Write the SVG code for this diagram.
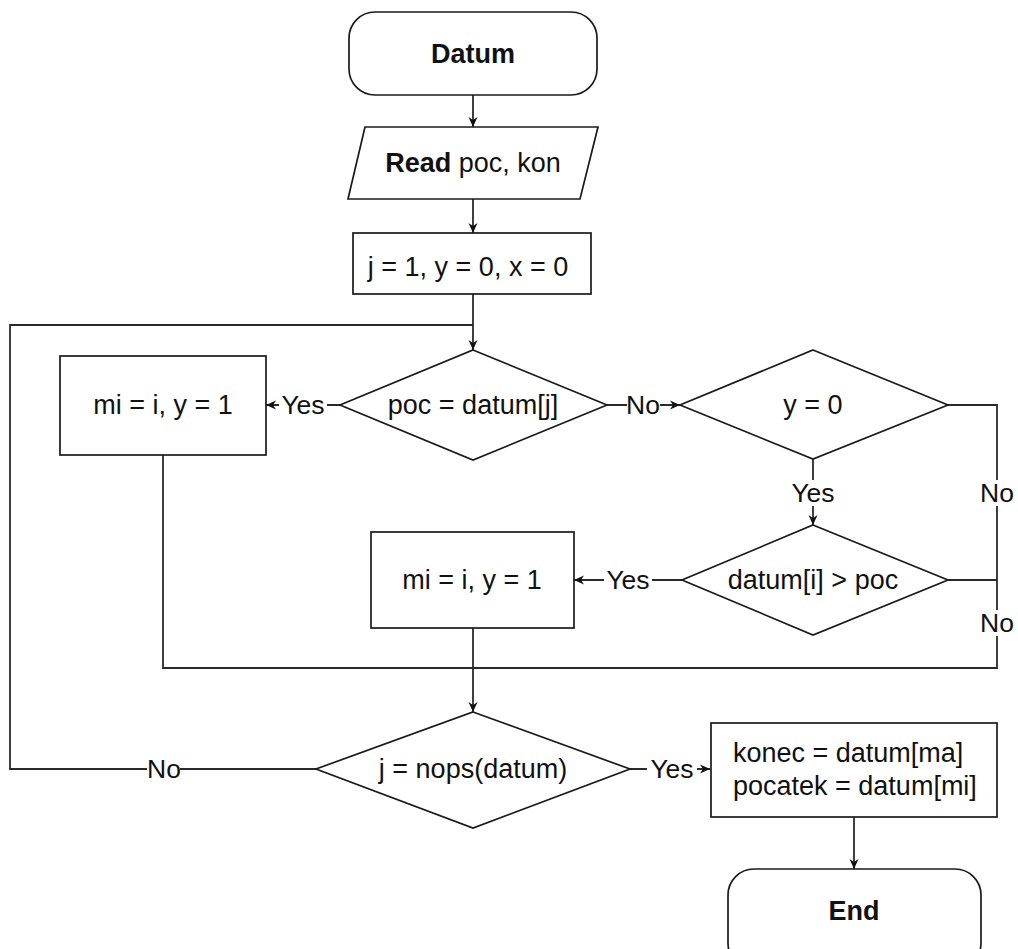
<svg xmlns="http://www.w3.org/2000/svg" width="1018" height="949" viewBox="0 0 1018 949">
<style>
.s{fill:#fff;stroke:#1a1a1a;stroke-width:1.7}
.t{font-family:"Liberation Sans",Arial,sans-serif;font-size:27px;fill:#111;text-anchor:middle}
.b{font-weight:bold}
.c{fill:none;stroke:#2a2a2a;stroke-width:1.8}
.l{font-family:"Liberation Sans",Arial,sans-serif;font-size:26.5px;fill:#111;text-anchor:middle}
.lb{fill:#fff;stroke:none}
</style>
<defs>
<marker id="ah" markerWidth="12" markerHeight="12" refX="10" refY="6" orient="auto" markerUnits="userSpaceOnUse">
<path d="M0,1.5 L10,6 L0,10.5 L3,6 Z" fill="#111"/>
</marker>
</defs>
<rect width="1018" height="949" fill="#fff"/>
<g id="connectors">
<path class="c" d="M473,95 V127" marker-end="url(#ah)"/>
<path class="c" d="M473,199 V233" marker-end="url(#ah)"/>
<path class="c" d="M473,294 V350" marker-end="url(#ah)"/>
<path class="c" d="M316,769 H10 V325 H473"/>
<path class="c" d="M340,405 H266" marker-end="url(#ah)"/>
<path class="c" d="M607,405 H680" marker-end="url(#ah)"/>
<path class="c" d="M813,459 V525" marker-end="url(#ah)"/>
<path class="c" d="M948,405 H997 V668 H163 V455"/>
<path class="c" d="M948,580 H997"/>
<path class="c" d="M682,580 H574" marker-end="url(#ah)"/>
<path class="c" d="M473,628 V712" marker-end="url(#ah)"/>
<path class="c" d="M630,769 H710" marker-end="url(#ah)"/>
<path class="c" d="M854,817 V869" marker-end="url(#ah)"/>
<rect class="lb" x="279" y="392" width="48" height="26"/>
<text class="l" x="303" y="414">Yes</text>
<rect class="lb" x="627" y="392" width="33" height="26"/>
<text class="l" x="643" y="414">No</text>
<rect class="lb" x="789" y="480" width="48" height="26"/>
<text class="l" x="813" y="502">Yes</text>
<rect class="lb" x="981" y="480" width="33" height="26"/>
<text class="l" x="997" y="502">No</text>
<rect class="lb" x="981" y="610" width="33" height="26"/>
<text class="l" x="997" y="632">No</text>
<rect class="lb" x="604" y="567" width="48" height="26"/>
<text class="l" x="628" y="589">Yes</text>
<rect class="lb" x="147" y="756" width="33" height="26"/>
<text class="l" x="164" y="778">No</text>
<rect class="lb" x="647" y="756" width="50" height="26"/>
<text class="l" x="672" y="778">Yes</text>
</g>
<g id="start">
<rect class="s" x="349" y="12" width="248" height="83" rx="26"/>
<text class="t b" x="473" y="63">Datum</text>
</g>
<g id="read">
<polygon class="s" points="365,127 598,127 580,199 348,199"/>
<text class="t" x="473" y="172"><tspan font-weight="bold">Read</tspan> poc, kon</text>
</g>
<g id="init">
<rect class="s" x="353" y="233" width="238" height="61"/>
<text class="t" x="468" y="276">j = 1, y = 0, x = 0</text>
</g>
<g id="cond1">
<polygon class="s" points="473,350 607,405 473,460 340,405"/>
<text class="t" x="473" y="414">poc = datum[j]</text>
</g>
<g id="set1">
<rect class="s" x="60" y="356" width="206" height="99"/>
<text class="t" x="163" y="414">mi = i, y = 1</text>
</g>
<g id="cond2">
<polygon class="s" points="813,350 948,405 813,459 680,405"/>
<text class="t" x="813" y="414">y = 0</text>
</g>
<g id="cond3">
<polygon class="s" points="813,525 948,580 813,635 682,580"/>
<text class="t" x="813" y="589">datum[i] &gt; poc</text>
</g>
<g id="set2">
<rect class="s" x="371" y="532" width="203" height="96"/>
<text class="t" x="472" y="589">mi = i, y = 1</text>
</g>
<g id="cond4">
<polygon class="s" points="473,712 630,769 473,828 316,769"/>
<text class="t" x="473" y="778">j = nops(datum)</text>
</g>
<g id="result">
<rect class="s" x="711" y="723" width="286" height="94"/>
<text class="t" x="733" y="762" style="text-anchor:start">konec = datum[ma]</text>
<text class="t" x="733" y="795" style="text-anchor:start">pocatek = datum[mi]</text>
</g>
<g id="end">
<rect class="s" x="728" y="869" width="253" height="100" rx="26"/>
<text class="t b" x="854" y="920">End</text>
</g>
</svg>
